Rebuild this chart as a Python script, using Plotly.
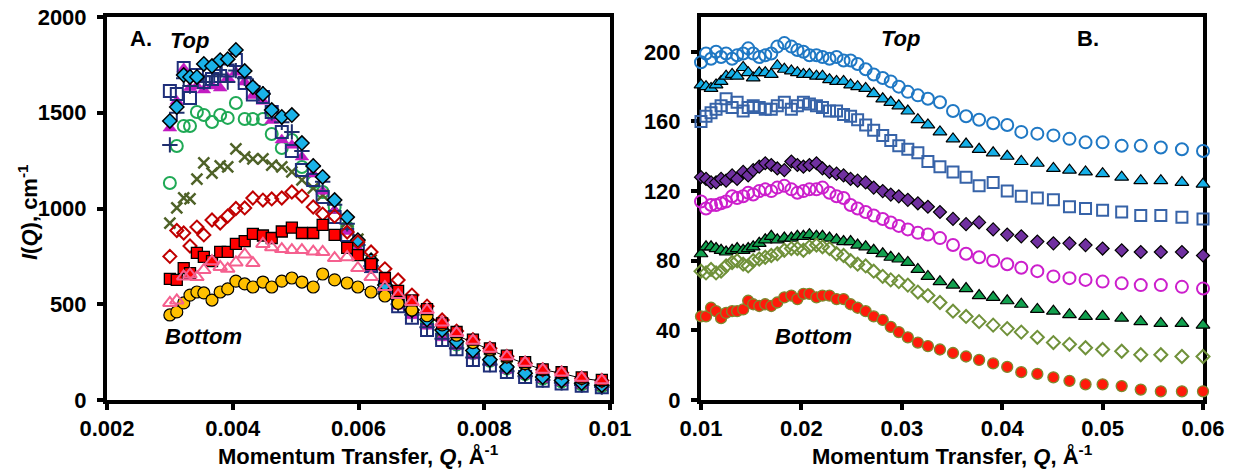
import plotly.graph_objects as go

FONT = "Liberation Sans, Arial, Helvetica, sans-serif"
W, H = 1238, 472

# ---------------- Panel A: low-Q range ----------------
q_a = [0.00300, 0.00311, 0.00322, 0.00332, 0.00343, 0.00354, 0.00367, 0.00380, 0.00392,
       0.00405, 0.00419, 0.00432, 0.00448, 0.00462, 0.00478, 0.00494, 0.00510, 0.00528,
       0.00543, 0.00562, 0.00582, 0.00599, 0.00620, 0.00642, 0.00663, 0.00685, 0.00709,
       0.00733, 0.00756, 0.00782, 0.00809, 0.00836, 0.00865, 0.00893, 0.00923, 0.00955,
       0.00987]

a_blue_diamond = [1457, 1530, 1697, 1687, 1687, 1755, 1744, 1775, 1780, 1828, 1718, 1634,
                  1598, 1514, 1478, 1488, 1342, 1222, 1165, 1044, 955, 835, 730, 600, 535,
                  470, 420, 365, 305, 258, 210, 172, 140, 120, 102, 88, 77]
a_navy_square = [1614, 1598, 1734, 1577, 1697, 1660, 1676, 1692, 1720, 1775, 1655, 1595,
                 1582, 1504, 1400, 1300, 1201, 1149, 1060, 956, 862, 790, 700, 590, 490,
                 430, 365, 313, 265, 209, 180, 146, 120, 100, 86, 75, 66]
a_magenta_triangle = [1420, 1560, 1730, 1630, 1640, 1619, 1640, 1629, 1682, 1712, 1660,
                      1590, 1560, 1460, 1358, 1330, 1269, 1180, 1090, 990, 880, 790, 680,
                      570, 490, 440, 385, 325, 280, 230, 195, 155, 128, 108, 92, 78, 70]
a_navy_plus = [1332, 1500, 1680, 1640, 1680, 1660, 1690, 1700, 1660, 1720, 1680, 1640,
               1600, 1500, 1450, 1400, 1300, 1220, 1140, 1020, 920, 810, 700, 585, 500,
               445, 380, 320, 270, 222, 185, 150, 124, 104, 90, 78, 68]
a_green_circle = [1133, 1326, 1431, 1431, 1504, 1488, 1452, 1488, 1473, 1551, 1467, 1467,
                  1467, 1389, 1316, 1358, 1217, 1138, 1086, 1008, 903, 825, 715, 600, 520,
                  460, 405, 345, 290, 245, 205, 165, 135, 112, 96, 82, 72]
a_olive_x = [924, 1003, 1055, 1050, 1154, 1238, 1185, 1222, 1217, 1311, 1269, 1259, 1259,
             1227, 1217, 1191, 1150, 1107, 1070, 1008, 930, 840, 730, 610, 525, 470, 420,
             360, 300, 255, 215, 175, 145, 120, 105, 88, 78]
a_red_diamond = [750, 885, 872, 804, 903, 862, 940, 924, 961, 1000, 1003, 1055, 1044, 1050,
                 1055, 1086, 1065, 1008, 971, 960, 877, 825, 773, 685, 627, 548, 490, 418,
                 360, 315, 270, 228, 192, 158, 142, 114, 102]
a_red_square = [632, 627, 689, 663, 768, 747, 725, 773, 773, 815, 830, 867, 859, 846, 880,
                900, 872, 872, 914, 862, 794, 757, 710, 637, 570, 520, 475, 400, 355, 315,
                270, 232, 198, 160, 145, 118, 105]
a_pink_triangle = [507, 520, 645, 655, 642, 679, 725, 695, 685, 718, 760, 715, 815, 797,
                   788, 783, 783, 775, 773, 741, 746, 689, 642, 590, 548, 512, 470, 405,
                   350, 310, 268, 228, 195, 158, 143, 116, 103]
a_orange_circle = [444, 460, 507, 548, 564, 559, 522, 564, 580, 621, 606, 590, 616, 590,
                   621, 637, 616, 590, 658, 627, 611, 590, 564, 543, 505, 470, 440, 392,
                   338, 300, 262, 225, 190, 158, 140, 113, 100]

# ---------------- Panel B: higher-Q range ----------------
q_b = [0.0100, 0.0105, 0.0110, 0.0115, 0.0120, 0.0125, 0.0131, 0.0136, 0.0142, 0.0147,
       0.0152, 0.0158, 0.0164, 0.0170, 0.0176, 0.0183, 0.0190, 0.0196, 0.0202, 0.0208,
       0.0215, 0.0221, 0.0228, 0.0235, 0.0242, 0.0249, 0.0256, 0.0264, 0.0272, 0.0281,
       0.0289, 0.0297, 0.0306, 0.0316, 0.0326, 0.0338, 0.0351, 0.0364, 0.0377, 0.0391,
       0.0405, 0.0419, 0.0435, 0.0451, 0.0467, 0.0483, 0.0500, 0.0519, 0.0538, 0.0558,
       0.0579, 0.0600]

b_blue_circle = [194, 199, 196, 200, 197, 199, 196, 198, 199, 202, 199, 197, 198, 199, 203,
                 205, 203, 201, 200, 198, 198, 197, 196, 197, 195, 195, 193, 190, 187, 185,
                 183, 180, 177, 175, 173, 171, 166, 163, 161, 159, 158, 154, 153, 152, 150,
                 148, 148, 146, 146, 145, 144, 143]
b_cyan_triangle = [181, 180, 179, 181, 183, 186, 187, 186, 191, 188, 185, 188, 188, 187,
                   192, 190, 189, 188, 187, 187, 186, 186, 184, 183, 183, 181, 180, 179,
                   176, 173, 171, 169, 166, 161, 158, 154, 150, 147, 144, 142, 140, 137,
                   136, 133, 132, 131, 130, 128, 126, 126, 125, 124]
b_steel_square = [160, 163, 165, 167, 169, 173, 168, 171, 166, 168, 169, 168, 167, 167,
                  169, 171, 167, 169, 171, 170, 169, 168, 166, 166, 164, 163, 161, 158,
                  155, 152, 149, 146, 144, 142, 137, 134, 131, 128, 123, 125, 120, 117,
                  116, 115, 111, 110, 109, 108, 106, 106, 105, 104]
b_purple_diamond = [128, 127, 125, 125, 127, 126, 129, 127, 131, 129, 132, 134, 136, 135,
                    133, 132, 137, 135, 134, 135, 136, 133, 131, 130, 129, 127, 126, 125,
                    122, 120, 118, 117, 115, 113, 111, 108, 104, 101, 102, 98, 95, 94, 91,
                    90, 90, 89, 87, 86, 85, 85, 85, 83]
b_magenta_circle = [114, 110, 112, 112, 113, 114, 117, 116, 117, 119, 118, 120, 121, 120,
                    122, 123, 121, 119, 120, 121, 121, 122, 119, 117, 116, 112, 110, 108,
                    106, 104, 102, 100, 98, 96, 95, 93, 89, 84, 82, 80, 78, 76, 74, 71,
                    70, 69, 68, 67, 66, 66, 65, 64]
b_green_triangle = [84, 88, 88, 87, 86, 85, 86, 87, 86, 87, 88, 90, 92, 94, 92, 93, 93, 94,
                    94, 95, 94, 94, 93, 92, 91, 91, 89, 88, 86, 84, 82, 81, 79, 75, 71, 68,
                    66, 64, 60, 59, 57, 55, 52, 51, 49, 48, 48, 47, 45, 44, 44, 43]
b_olive_diamond = [74, 73, 75, 73, 74, 77, 79, 80, 78, 77, 80, 81, 82, 83, 84, 86, 87, 87,
                   86, 88, 89, 88, 87, 84, 83, 80, 78, 77, 74, 71, 69, 68, 66, 62, 60, 56,
                   51, 48, 45, 43, 41, 39, 36, 33, 32, 30, 29, 28, 26, 26, 25, 25]
b_red_circle = [48, 48, 53, 51, 47, 50, 51, 51, 52, 57, 55, 54, 55, 54, 56, 59, 60, 58, 61,
                61, 59, 60, 60, 58, 58, 55, 53, 51, 48, 46, 42, 39, 36, 33, 31, 29, 27, 25,
                23, 21, 19, 16, 15, 13, 11, 9, 9, 8, 6, 5, 5, 5]

a_xticks = [0.002, 0.004, 0.006, 0.008, 0.01]
a_xticklabels = ["0.002", "0.004", "0.006", "0.008", "0.01"]
a_yticks = [0, 500, 1000, 1500, 2000]
b_xticks = [0.01, 0.02, 0.03, 0.04, 0.05, 0.06]
b_xticklabels = ["0.01", "0.02", "0.03", "0.04", "0.05", "0.06"]
b_yticks = [0, 40, 80, 120, 160, 200]

fig = go.Figure()


def add(x, y, xa, ya, symbol, size, fill, edge, edge_w, mode="markers", line=None):
    fig.add_trace(go.Scatter(
        x=x, y=y, xaxis=xa, yaxis=ya, mode=mode,
        marker=dict(symbol=symbol, size=size, color=fill,
                    line=dict(color=edge, width=edge_w)),
        line=line, cliponaxis=False, showlegend=False, hoverinfo="skip"))


# Panel A traces (drawing order matters for overlaps)
add(q_a, a_green_circle, "x", "y", "circle-open", 12, "#1fa955", "#1fa955", 2)
add(q_a, a_olive_x, "x", "y", "x-thin", 11, "#4f6228", "#4f6228", 2.5)
add(q_a, a_magenta_triangle, "x", "y", "triangle-up", 12, "#c21bc2", "#c21bc2", 0.5)
add(q_a, a_navy_square, "x", "y", "square-open", 12, "#1f2f7a", "#1f2f7a", 2)
add(q_a, a_navy_plus, "x", "y", "cross-thin", 11, "#1f2f6e", "#1f2f6e", 2)
add(q_a, a_blue_diamond, "x", "y", "diamond", 11, "#1ab2e8", "black", 1.5)
add(q_a, a_red_diamond, "x", "y", "diamond-open", 10, "#c00000", "#c00000", 2)
add(q_a, a_orange_circle, "x", "y", "circle", 12, "#ffc000", "black", 1.2,
    mode="lines+markers", line=dict(color="black", width=1))
add(q_a, a_red_square, "x", "y", "square", 11, "#ff0000", "black", 1.3)
add(q_a, a_pink_triangle, "x", "y", "triangle-up-open", 12, "#f5608f", "#f5608f", 2)

# Panel B traces
add(q_b, b_blue_circle, "x2", "y2", "circle-open", 12, "#1f78c4", "#1f78c4", 2)
add(q_b, b_cyan_triangle, "x2", "y2", "triangle-up", 12, "#16b0e8", "black", 1.2)
add(q_b, b_steel_square, "x2", "y2", "square-open", 11, "#3763a8", "#3763a8", 2)
add(q_b, b_purple_diamond, "x2", "y2", "diamond", 10, "#7030a0", "black", 1.2)
add(q_b, b_magenta_circle, "x2", "y2", "circle-open", 12, "#cc1fcc", "#cc1fcc", 2)
add(q_b, b_green_triangle, "x2", "y2", "triangle-up", 12, "#12a04e", "black", 1.2)
add(q_b, b_olive_diamond, "x2", "y2", "diamond-open", 10, "#70913a", "#70913a", 2)
add(q_b, b_red_circle, "x2", "y2", "circle", 11, "#ff1a0a", "#7d8a2e", 1.3)

tickfont = dict(family=FONT, size=22, color="black", weight="bold")
axis_style = dict(showline=True, linecolor="black", linewidth=4, mirror=True,
                  ticks="outside", ticklen=6, tickwidth=4, tickcolor="black",
                  showgrid=False, zeroline=False, tickfont=tickfont,
                  layer="below traces", automargin=False)

y_dom = [1 - 400 / H, 1 - 17 / H]
fig.update_layout(
    width=W, height=H,
    margin=dict(l=0, r=0, t=0, b=0),
    paper_bgcolor="white", plot_bgcolor="white",
    xaxis=dict(domain=[107 / W, 610 / W], range=[0.002, 0.01], anchor="y",
               tickvals=a_xticks, ticktext=a_xticklabels, **axis_style),
    yaxis=dict(domain=y_dom, range=[0, 2000], anchor="x",
               tickvals=a_yticks, ticklabelstandoff=6, **axis_style),
    xaxis2=dict(domain=[701 / W, 1203 / W], range=[0.01, 0.06], anchor="y2",
                tickvals=b_xticks, ticktext=b_xticklabels, **axis_style),
    yaxis2=dict(domain=y_dom, range=[0, 220], anchor="x2",
                tickvals=b_yticks, ticklabelstandoff=6, **axis_style),
)


def label(text, px, py, size=22, angle=0):
    fig.add_annotation(text=text, x=px / W, y=1 - py / H, xref="paper", yref="paper",
                       xanchor="center", yanchor="middle", showarrow=False,
                       textangle=angle,
                       font=dict(family=FONT, size=size, color="black", weight="bold"))


label("<b><i>I</i>(<i>Q</i>), cm<sup>-1</sup></b>", 28, 212, angle=-90)
label("<b>Momentum Transfer, <i>Q</i>, Å<sup>-1</sup></b>", 358, 455)
label("<b>Momentum Transfer, <i>Q</i>, Å<sup>-1</sup></b>", 952, 455)
label("<b>A.</b>", 141, 38)
label("<b><i>Top</i></b>", 190, 41)
label("<b><i>Bottom</i></b>", 203, 336)
label("<b><i>Top</i></b>", 901, 38)
label("<b>B.</b>", 1088, 38)
label("<b><i>Bottom</i></b>", 813, 336)

fig.write_html("out.html")
